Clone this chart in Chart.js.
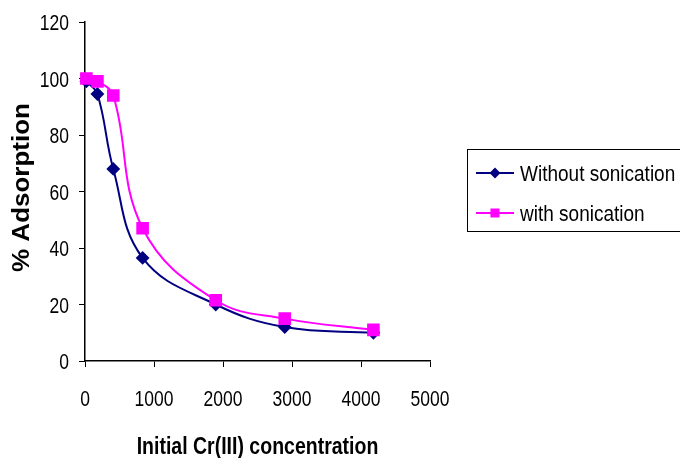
<!DOCTYPE html>
<html>
<head>
<meta charset="utf-8">
<script src="https://cdn.jsdelivr.net/npm/chart.js@4/dist/chart.umd.min.js"></script>
<style>
  html, body { margin: 0; padding: 0; background: #fff; }
  #wrap { width: 680px; height: 458px; }
</style>
</head>
<body>
<div id="wrap"><canvas id="c" width="680" height="458"></canvas></div>
<script>
// Initial Cr(III) concentration and % adsorption for each series
const concentrations = [20, 180, 410, 835, 1895, 2895, 4180];
const withoutSonication = [99, 94.5, 68, 36.5, 20, 12, 10];
const withSonication = [100, 99, 94, 47, 21.5, 15, 11];
const seriesNames = ['Without sonication', 'with sonication'];
const xTicks = [0, 1000, 2000, 3000, 4000, 5000];
const yTicks = [0, 20, 40, 60, 80, 100, 120];
const xTitle = 'Initial Cr(III) concentration';
const yTitle = '% Adsorption';

const SANS = '"Liberation Sans", Arial, sans-serif';
const NAVY = '#000080';
const MAGENTA = '#FF00FF';

const toPoints = ys => concentrations.map((x, i) => ({ x, y: ys[i] }));

// Text drawn slightly taller than wide, in the tall Arial look of the axes
function tallText(ctx, text, x, y, font, sx, sy, align, rotate) {
  ctx.save();
  ctx.translate(x, y);
  if (rotate) ctx.rotate(rotate);
  ctx.scale(sx, sy);
  ctx.font = font;
  ctx.fillStyle = '#000';
  ctx.textAlign = align;
  ctx.textBaseline = 'alphabetic';
  ctx.fillText(text, 0, 0);
  ctx.restore();
}

// Tick labels and axis titles, placed with the chart's own scales
const axisText = {
  id: 'axisText',
  afterDraw(chart) {
    const ctx = chart.ctx;
    const xs = chart.scales.x, ys = chart.scales.y;
    const tickFont = '17.5px ' + SANS;
    xTicks.forEach(v => {
      tallText(ctx, String(v), xs.getPixelForValue(v), 406, tickFont, 1, 1.25, 'center');
    });
    yTicks.forEach(v => {
      tallText(ctx, String(v), 69, ys.getPixelForValue(v) + 8, tickFont, 1, 1.25, 'right');
    });
    const area = chart.chartArea;
    tallText(ctx, xTitle, (area.left + area.right) / 2, 454,
      'bold 19.5px ' + SANS, 1, 1.2, 'center');
    tallText(ctx, yTitle, 29, (area.top + area.bottom) / 2 - 4,
      'bold 23px ' + SANS, 1.13, 1, 'center', -Math.PI / 2);
  }
};

// Boxed legend on the right, with a line sample and marker for each series
const boxLegend = {
  id: 'boxLegend',
  afterDraw(chart) {
    const ctx = chart.ctx;
    ctx.save();
    ctx.strokeStyle = '#000';
    ctx.lineWidth = 1;
    ctx.strokeRect(467.5, 149.5, 222, 82);
    const rows = [173, 213];
    chart.data.datasets.forEach((ds, i) => {
      const y = rows[i];
      ctx.strokeStyle = ds.borderColor;
      ctx.lineWidth = 2;
      ctx.beginPath();
      ctx.moveTo(476, y);
      ctx.lineTo(514, y);
      ctx.stroke();
      Chart.helpers.drawPoint(ctx, {
        pointStyle: ds.pointStyle,
        radius: ds.pointStyle === 'rect' ? 5 : 4,
        borderWidth: 1
      }, 495, y);
      ctx.fillStyle = ds.borderColor;
      ctx.fill();
      tallText(ctx, ds.label, 520, y + 8, '19px ' + SANS, 1, 1.2, 'left');
    });
    ctx.restore();
  }
};

new Chart(document.getElementById('c'), {
  type: 'line',
  data: {
    datasets: [
      {
        label: seriesNames[0],
        data: toPoints(withoutSonication),
        borderColor: NAVY,
        backgroundColor: NAVY,
        pointBackgroundColor: NAVY,
        pointBorderColor: NAVY,
        pointStyle: 'rectRot',
        pointRadius: 5.5,
        borderWidth: 2,
        tension: 0.4,
        fill: false,
        order: 1,
        clip: false
      },
      {
        label: seriesNames[1],
        data: toPoints(withSonication),
        borderColor: MAGENTA,
        backgroundColor: MAGENTA,
        pointBackgroundColor: MAGENTA,
        pointBorderColor: MAGENTA,
        pointStyle: 'rect',
        pointRadius: 7.5,
        borderWidth: 2,
        tension: 0.4,
        fill: false,
        order: 0,
        clip: false
      }
    ]
  },
  options: {
    responsive: false,
    animation: false,
    devicePixelRatio: 1,
    layout: { padding: { top: 22, right: 250, left: 0, bottom: 0 } },
    plugins: {
      legend: { display: false },
      tooltip: { enabled: false }
    },
    scales: {
      x: {
        type: 'linear',
        min: 0,
        max: 5000,
        afterBuildTicks: s => { s.ticks = xTicks.map(v => ({ value: v })); },
        afterFit: s => { s.height = 97; },
        ticks: { display: false },
        grid: { drawOnChartArea: false, drawTicks: true, tickLength: 6, color: '#000' },
        border: { color: '#000', width: 1.5 },
        title: { display: false }
      },
      y: {
        min: 0,
        max: 120,
        afterBuildTicks: s => { s.ticks = yTicks.map(v => ({ value: v })); },
        afterFit: s => { s.width = 85; },
        ticks: { display: false },
        grid: { drawOnChartArea: false, drawTicks: true, tickLength: 6, color: '#000' },
        border: { color: '#000', width: 1.5 },
        title: { display: false }
      }
    }
  },
  plugins: [axisText, boxLegend]
});
</script>
</body>
</html>
